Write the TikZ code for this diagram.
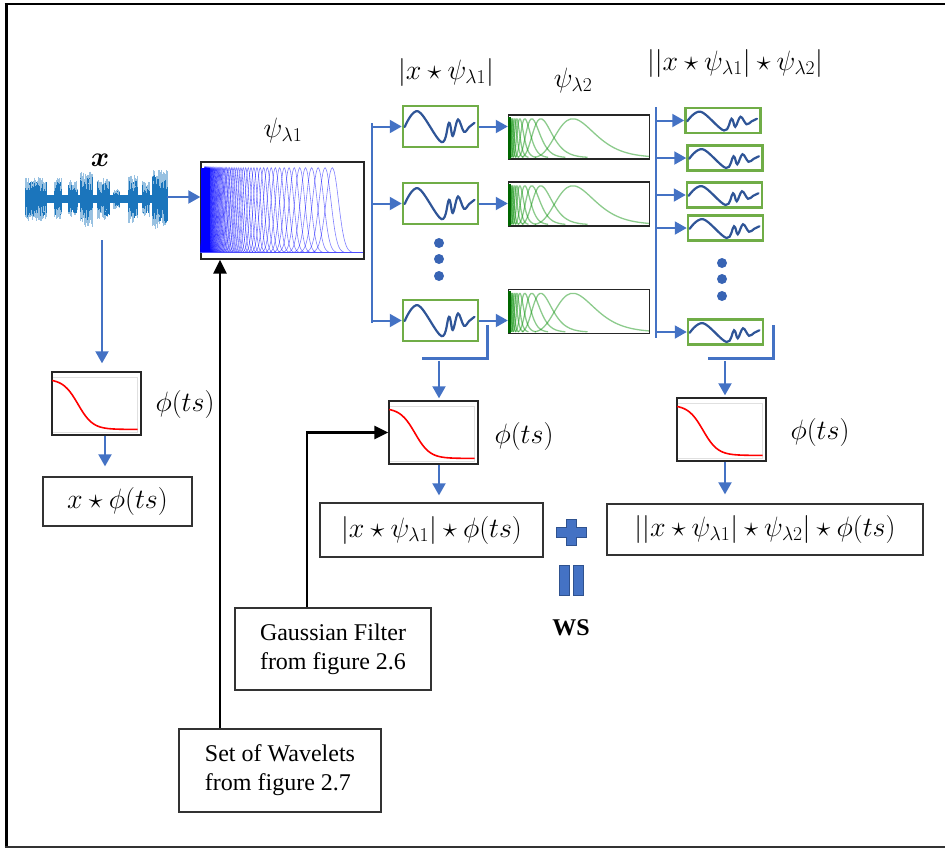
\documentclass[tikz,border=0pt]{standalone}
\usepackage{fix-cm}
\usepackage{amsmath}
\usepackage[no-math]{fontspec}
\setmainfont{Liberation Serif}
\usepackage{tikz}
\usetikzlibrary{arrows.meta,calc}
\definecolor{lblue}{HTML}{4472C4}
\definecolor{wblue}{HTML}{2F5597}
\definecolor{gbord}{HTML}{70AD47}
\definecolor{sigc}{HTML}{1B75BC}
\definecolor{dkblue}{HTML}{2F528F}
\definecolor{dotc}{HTML}{3864B4}
\tikzset{
  bl/.style={-{Triangle[length=12pt,width=13pt]},line width=2pt,lblue},
  bk/.style={-{Triangle[length=14pt,width=13pt]},line width=2.5pt,black},
  bus/.style={line width=1.7pt,lblue},
  brk/.style={line width=3pt,lblue},
  gbox/.style={draw=gbord,line width=2.5pt,inner sep=0pt},
  fbox/.style={draw=black!85,line width=1.4pt,inner sep=0pt,fill=white},
  tbox/.style={draw=black!80,line width=1.3pt,align=left,font=\fontsize{24}{29}\selectfont},
  lab/.style={font=\fontsize{28}{33}\selectfont,inner sep=0pt}
}
% small wavy signal inside a green box
\newcommand\wig[3]{%
  \begin{scope}[shift={(#1.south west)},x=#2pt,y=#3pt]
    \draw[wblue,line width=2.2pt,line cap=round] plot[smooth,tension=0.6] coordinates
      {(0.04,0.52) (0.22,0.9) (0.53,0.15) (0.63,0.62) (0.68,0.3) (0.75,0.7) (0.83,0.4) (0.9,0.52) (0.97,0.62)};
  \end{scope}}
% low-pass curve inside a phi box
\newcommand\gaussplot[1]{%
  \begin{scope}[shift={(#1.south west)},x=89pt,y=63pt]
    \draw[black!12,line width=0.8pt] (0.02,0.05) -- (0.97,0.05) -- (0.97,0.93) -- (0.02,0.93);
    \draw[red,line width=1.6pt] plot[domain=0.01:0.97,samples=40,smooth] (\x,{0.1+0.8/(1+exp((\x-0.3)*12))});
  \end{scope}}
% second order filter bank
\newcommand\gbank[1]{%
  \begin{scope}[shift={(#1.south west)},y=1pt]
    \clip (0,0) rectangle (141,44);
    \foreach \u in {0.5,1,2,3,4,6,8,11,16,23,32,64}
      \draw[green!55!black,opacity=0.45,line width=1.3pt] plot[domain=-3:3,samples=30,smooth]
        ({1+\u*exp(0.3*\x)},{2+39*exp(-0.5*(\x)*(\x))});
    \fill[green!40!black] (0,1) rectangle (3,43);
  \end{scope}}

\begin{document}
\begin{tikzpicture}[x=1pt,y=-1pt]
\useasboundingbox (0,0) rectangle (945,849);
\draw[line width=2.5pt] (4.5,4) -- (945,4);
\draw[line width=3pt] (6,4) -- (6,847);
\draw[line width=2pt,black!80] (4.5,847) -- (945,847);

% input signal
\node[minimum width=142pt,minimum height=62pt,inner sep=0pt] (sig) at (96,197) {};
\pgfmathsetseed{5}
\fill[sigc] (25,195) rectangle (167,203);
\foreach \a/\b/\m in {25/47/22,54/62/21,68/77/19,80/93/28,97/110/21,113/120/10,128/137/24,142/150/18,152/167/30}{
  \pgfmathtruncatemacro\nn{(\b-\a)/0.45}
  \foreach \i in {0,...,\nn}{
    \pgfmathsetmacro\xx{\a+0.45*\i}
    \draw[sigc!45,line width=0.7pt] (\xx,{199-\m*(0.5+0.5*rnd)}) -- (\xx,{199+\m*(0.5+0.5*rnd)});
    \draw[sigc,line width=0.7pt] (\xx,{199-\m*(0.3+0.5*rnd)}) -- (\xx,{199+\m*(0.3+0.5*rnd)});
  }}
\node[lab] (xl) at (100,160) {$\boldsymbol{x}$};

% first filter bank
\node[fbox,minimum width=163pt,minimum height=97pt] (wav) at (282.5,210.5) {};
\node[lab] (lw1) at (283,130) {$\psi_{\lambda 1}$};
\begin{scope}[shift={(wav.south west)},y=1pt]
  \clip (0,0) rectangle (163,97);
  \fill[blue] (1,7) rectangle (10,92);
  \foreach \k in {0,...,70}{
    \pgfmathsetmacro\cc{2+130*2^(-\k/12)}
    \pgfmathsetmacro\ss{1.6+0.035*\cc}
    \draw[blue,opacity=0.5,line width=0.6pt] plot[domain=-3.2:3.2,samples=21,smooth]
      ({\cc+\ss*\x},{7+85*exp(-0.5*(\x)*(\x))});}
  \draw[blue!70,line width=0.8pt] (0,7) -- (163,7);
\end{scope}

% phi on the input
\node[fbox,minimum width=89pt,minimum height=63pt] (phia) at (96.5,403.5) {};
\gaussplot{phia}
\node[lab] (fa) at (185,404) {$\phi(ts)$};
\node[tbox,lab,draw=black!80,inner sep=3pt,minimum width=149pt,minimum height=49pt,align=center] (resa) at (117.5,501.5) {$x\star\phi(ts)$};

% first order
\node[lab] (lg) at (446,72) {$|x\star\psi_{\lambda 1}|$};
\foreach \n/\yy in {g1/126.5,g2/203.5,g3/320.5}
  \node[gbox,minimum width=75pt,minimum height=41pt] (\n) at (440.5,\yy) {};
\foreach \n in {g1,g2,g3} \wig{\n}{75}{41};
\foreach \yy in {243,259,276} \fill[dotc] (439,\yy) circle (5pt);

% second filter bank
\node[lab] (lw2) at (573,80) {$\psi_{\lambda 2}$};
\foreach \n/\yy in {p1/137,p2/204,p3/311.5}
  \node[fbox,minimum width=141pt,minimum height=44pt] (\n) at (579,\yy) {};
\foreach \n in {p1,p2,p3} \gbank{\n};

% second order
\node[lab] (ls) at (735,63) {$||x\star\psi_{\lambda 1}|\star\psi_{\lambda 2}|$};
\foreach \n/\xx/\yy in {s1/723/120.5,s2/725/158,s3/724.5/195,s4/725.5/228,s5/725.5/332}
  \node[gbox,minimum width=75pt,minimum height=25pt] (\n) at (\xx,\yy) {};
\foreach \n in {s1,s2,s3,s4,s5} \wig{\n}{75}{25};
\foreach \yy in {263,279,296} \fill[dotc] (722,\yy) circle (5pt);

% averaging
\node[fbox,minimum width=89pt,minimum height=63pt] (phib) at (433.5,432.5) {};
\gaussplot{phib}
\node[lab] (fb) at (524,436) {$\phi(ts)$};
\node[tbox,lab,draw=black!80,inner sep=3pt,minimum width=223pt,minimum height=54pt,align=center] (resb) at (431.5,530) {$|x\star\psi_{\lambda 1}|\star\phi(ts)$};
\node[fbox,minimum width=89pt,minimum height=63pt] (phic) at (721.5,429.5) {};
\gaussplot{phic}
\node[lab] (fc) at (820,432) {$\phi(ts)$};
\node[tbox,lab,draw=black!80,inner sep=3pt,minimum width=316pt,minimum height=51pt,align=center] (resc) at (765,529.5) {$||x\star\psi_{\lambda 1}|\star\psi_{\lambda 2}|\star\phi(ts)$};

% sources
\node[tbox,minimum width=196pt,minimum height=82pt] (gauss) at (333,649) {Gaussian Filter\\from figure 2.6};
\node[tbox,minimum width=202pt,minimum height=83pt] (wset) at (280,770.5) {Set of Wavelets\\from figure 2.7};

% plus, equals, WS
\fill[lblue,draw=dkblue,line width=0.8pt] (566,519) -- (576,519) -- (576,527) -- (586,527) -- (586,537) -- (576,537)
  -- (576,545) -- (566,545) -- (566,537) -- (556,537) -- (556,527) -- (566,527) -- cycle;
\fill[lblue,draw=dkblue,line width=0.8pt] (559,565) rectangle (569,595);
\fill[lblue,draw=dkblue,line width=0.8pt] (573,565) rectangle (583,595);
\node[font=\fontsize{24}{29}\selectfont\bfseries,inner sep=0pt] (ws) at (571,628) {WS};

% connectors
\draw[bl] (sig.east) -- (sig.east -| wav.west);
\coordinate (ka) at (102,240);
\draw[bl,shorten >=8pt] (ka) -- (ka |- phia.north);
\coordinate (kab) at (105,435);
\draw[bl,shorten >=10pt] (phia.south -| kab) -- (resa.north -| kab);

\coordinate (bt1) at (372,123);
\coordinate (bb1) at (372,323);
\draw[bus] (bt1) -- (bb1);
\foreach \n in {g1,g2,g3} \draw[bl] (bt1 |- \n.west) -- (\n.west);
\foreach \n/\m in {g1/p1,g2/p2,g3/p3} \draw[bl] (\n.east) -- (\n.east -| \m.west);

\coordinate (bt2) at (656,107);
\coordinate (bb2) at (656,338);
\draw[bus] (bt2) -- (bb2);
\foreach \n in {s1,s2,s3,s4,s5} \draw[bl] (bt2 |- \n.west) -- (\n.west);

\draw[brk] (487,325) |- (422,358);
\draw[brk] (773,325) |- (708,358);
\coordinate (kb) at (439,361);
\draw[bl,shorten >=2pt] (kb) -- (kb |- phib.north);
\draw[bl,shorten >=7pt] (phib.south -| kb) -- (resb.north -| kb);
\coordinate (kc) at (725,361);
\draw[bl,shorten >=2pt] (kc) -- (kc |- phic.north);
\draw[bl,shorten >=9pt] (phic.south -| kc) -- (resc.north -| kc);

\coordinate (kw) at ([xshift=-60pt]wset.north);
\draw[bk] (kw) -- (kw |- wav.south);
\coordinate (kg) at ([xshift=-26pt]gauss.north);
\draw[bk] (kg) |- (phib.west);
\end{tikzpicture}
\end{document}
